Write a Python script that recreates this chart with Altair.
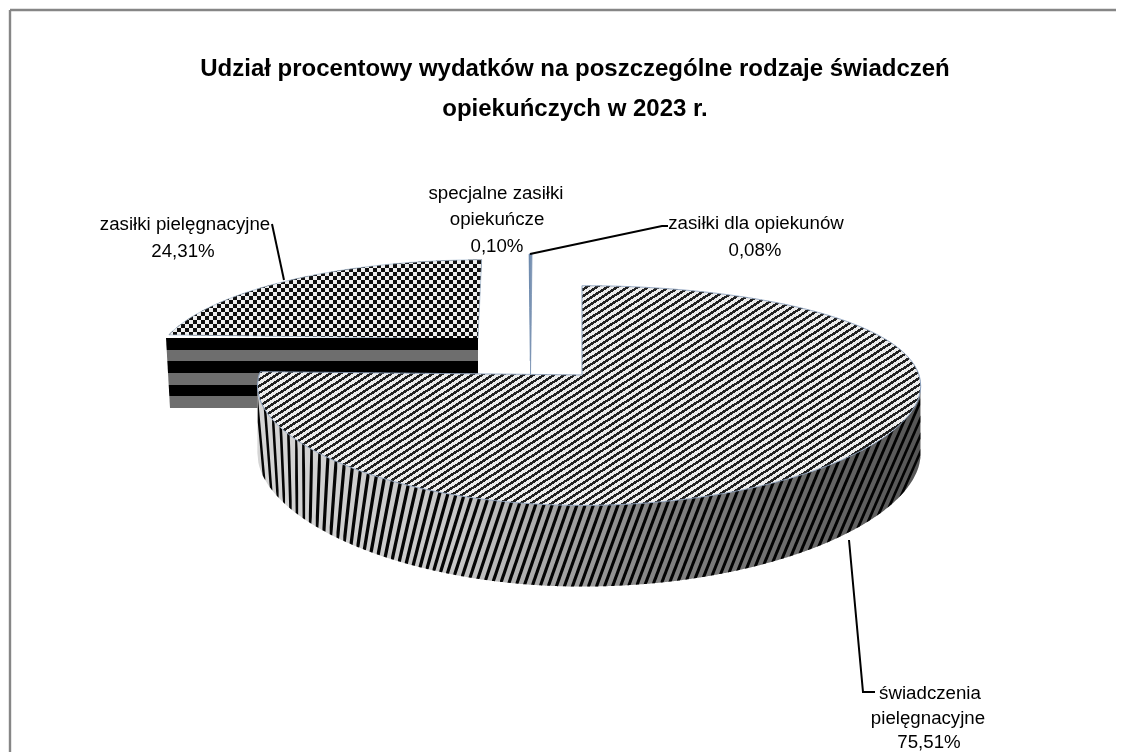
import math
import altair as alt
import numpy as np
import pandas as pd

# ---- chart values ----
categories = ["świadczenia pielęgnacyjne", "zasiłki pielęgnacyjne", "specjalne zasiłki opiekuńcze", "zasiłki dla opiekunów"]
shares = [75.51, 24.31, 0.10, 0.08]

title_lines = ["Udział procentowy wydatków na poszczególne rodzaje świadczeń", "opiekuńczych w 2023 r."]
title_x = [575, 575]
title_y = [69, 109]

label_text = ["zasiłki pielęgnacyjne", "24,31%", "specjalne zasiłki", "opiekuńcze", "0,10%",
              "zasiłki dla opiekunów", "0,08%", "świadczenia", "pielęgnacyjne", "75,51%"]
label_x = [185, 183, 496, 497, 497, 756, 755, 930, 928, 929]
label_y = [224, 251, 193, 219, 246, 223, 250, 693, 718, 742]

leader_id = [0, 0, 1, 1, 1, 2, 2, 2]
leader_x = [284, 272, 530, 662, 668, 849, 863, 875]
leader_y = [280, 224, 254, 226, 226, 540, 692, 692]

W, H = 1108, 744
sx = alt.Scale(domain=[8, 8 + W], range=[0, W], nice=False, zero=False)
sy = alt.Scale(domain=[8, 8 + H], range=[0, H], nice=False, zero=False)


def rim(xc, yc, al, ar, B, k, kx, t0, t1, drop=0.0, n=240):
    pts = []
    for i in range(n + 1):
        t = math.radians(t0 + (t1 - t0) * i / n)
        u, v = math.sin(t), math.cos(t)
        w = 1 + k * v
        A = ar if u >= 0 else al
        pts.append((xc + A * u / (1 + kx * v), yc - B * v / w + drop / w))
    return pts


def sample(poly, step=1.0):
    lo, hi = min(p[0] for p in poly), max(p[0] for p in poly)
    xs = set()
    e = 1e-3
    x = lo + e
    while x < hi:
        xs.add(round(x, 3))
        x += step
    for p in poly:
        if lo + e < p[0] < hi - e and abs(p[0] - round(p[0])) < 1e-6:
            xs.add(p[0] - e)
            xs.add(p[0] + e)
    xs.add(hi - e)
    rows = []
    m = len(poly)
    for x in sorted(xs):
        ys = []
        for i in range(m):
            (x1, y1), (x2, y2) = poly[i], poly[(i + 1) % m]
            if (x1 <= x < x2) or (x2 <= x < x1):
                ys.append(y1 + (y2 - y1) * (x - x1) / (x2 - x1))
        if ys:
            rows.append({"x": x, "y": min(ys), "y2": max(ys)})
    return pd.DataFrame(rows)


def stripes(df, angle, period, on, off, duty=0.5):
    w = max(df.x.max() - df.x.min(), 1)
    h = max(df.y2.max() - df.y.min(), 1)
    a0 = math.radians(angle)
    nx, ny = math.sin(a0), math.cos(a0)
    a, b = nx * w, ny * h
    c = (abs(a) + abs(b)) / (a * a + b * b)
    x1 = 0 if a >= 0 else 1
    y1 = 0 if b >= 0 else 1
    N = int((abs(a) + abs(b)) / period) + 1
    unit = period / (abs(a) + abs(b))
    stops = []
    for i in range(N):
        s = i * unit
        m = s + duty * unit
        e = s + unit
        if s > 1:
            break
        stops += [(s, on), (min(m, 1), on), (min(m, 1), off), (min(e, 1), off)]
    return alt.Gradient(
        gradient="linear",
        x1=x1, y1=y1, x2=x1 + c * a, y2=y1 + c * b,
        stops=[alt.GradientStop(offset=round(o, 6), color=col) for o, col in stops],
    )


def area(df, **mark):
    return alt.Chart(df).mark_area(**mark).encode(
        x=alt.X("x:Q", scale=sx, axis=None),
        y=alt.Y("y:Q", scale=sy, axis=None, stack=None),
        y2="y2:Q",
    )


# sweep of each slice, from the values
sweep = [s / sum(shares) * 360 for s in shares]
a1 = sweep[0]
a2 = a1 + sweep[1]
a3 = a2 + sweep[2]
a4 = a3 + sweep[3]

layers = []

# frame (top and left only)
frame = pd.DataFrame({"x": [10, 10], "x2": [1116, 10], "y": [10, 10], "y2": [10, 752]})
layers.append(alt.Chart(frame).mark_rule(color="#868686", strokeWidth=2.4).encode(
    x=alt.X("x:Q", scale=sx, axis=None), x2="x2:Q",
    y=alt.Y("y:Q", scale=sy, axis=None), y2="y2:Q"))

# slice 2: checkered top
top2 = sample(rim(484.5, 338, 318.5, 318.5, 99, 0.265, 0.265, a1, a2) + [(478, 339)])
layers.append(area(top2, color="white"))
layers.append(area(top2, color=stripes(top2, 90, 8, "white", "black"), blend="difference"))
layers.append(area(top2, color=stripes(top2, 0, 8, "white", "black"), blend="difference"))
layers.append(area(top2, color="rgba(120,120,120,0.12)", stroke="#9fb4cc", strokeWidth=0.7))

# slice 2: banded cut face
face = sample([(166, 338), (478, 338), (478, 408), (170, 408)])
layers.append(area(face, color=stripes(face, 0, 23.4, "#000000", "#6e6e6e")))

# slices 3 and 4
thin_colors = ["#5f7fa6", "#7d96b5"]
for t0, t1, col in [(a2, a3, thin_colors[0]), (a3, a4, thin_colors[1])]:
    d = sample(rim(532, 375, 320, 320, 153, 0.265, 0.265, t0, t1, n=8) + [(530.5, 375)], step=0.2)
    layers.append(area(d, color=col, stroke=col, strokeWidth=0.8))

# slice 1: wall, with a fan of dark bands
RIM = dict(xc=582, yc=375, al=323, ar=337, B=106, k=0.187, kx=0.1)
arc_wall = rim(**RIM, t0=98, t1=a1)
wall_poly = arc_wall + rim(**RIM, t0=98, t1=a1, drop=66)[::-1]
wall = sample(wall_poly)
layers.append(area(wall, color="#e2e2e2"))

band_rows = []
Y_REF = 480.0
x0 = 215.0
band = 0
while x0 < 990:
    gap = float(np.interp(x0, [257, 280, 320, 400, 860, 930], [6, 6.5, 8, 8.5, 8, 6.5]))
    ang = float(np.interp(x0, [257, 300, 380, 480, 921], [96, 90, 80, 72, 66]))
    if abs(ang - 90) < 0.5:
        ang = 90.5
    tn = math.tan(math.radians(ang))
    bw = 0.4 * gap
    shift = abs(130 / tn)
    for x in np.arange(x0 - shift, x0 + shift + bw + 0.5, 0.5):
        if x < wall.x.min() or x > wall.x.max():
            continue
        l1 = Y_REF - tn * (x - x0)
        l2 = Y_REF - tn * (x - x0 - bw)
        lo, hi = min(l1, l2), max(l1, l2)
        t = max(lo, float(np.interp(x, wall.x, wall.y)))
        b = min(hi, float(np.interp(x, wall.x, wall.y2)))
        if t < b:
            band_rows.append({"i": band, "x": round(float(x), 2), "y": round(t, 2), "y2": round(b, 2)})
    band += 1
    x0 += gap
bands = pd.DataFrame(band_rows)
layers.append(area(bands, color="#050505").encode(detail="i:N"))

shade = alt.Gradient(gradient="linear", x1=0, y1=0, x2=1, y2=0, stops=[
    alt.GradientStop(offset=0, color="rgba(0,0,0,0.06)"),
    alt.GradientStop(offset=0.3, color="rgba(0,0,0,0.12)"),
    alt.GradientStop(offset=0.6, color="rgba(0,0,0,0.42)"),
    alt.GradientStop(offset=1, color="rgba(0,0,0,0.62)"),
])
layers.append(area(wall, color=shade))

# slice 1: sliver of inner wall
sliver = sample([(582, 287), (588, 375), (582, 375)], step=0.25)
layers.append(area(sliver, color="#2e3a46"))

# slice 1: striped top
top1 = sample(rim(**RIM, t0=0, t1=a1) + [(588, 375)])
layers.append(area(top1, color=stripes(top1, 33, 5.6, "#222222", "#ececec", duty=0.44),
                   stroke="#8ba0bd", strokeWidth=1))

# leader lines
lead = pd.DataFrame({"id": leader_id, "x": leader_x, "y": leader_y, "o": range(len(leader_x))})
layers.append(alt.Chart(lead).mark_line(color="black", strokeWidth=2).encode(
    x=alt.X("x:Q", scale=sx, axis=None), y=alt.Y("y:Q", scale=sy, axis=None),
    detail="id:N", order="o:Q"))

# labels
labels = pd.DataFrame({"t": label_text, "x": label_x, "y": label_y})
layers.append(alt.Chart(labels).mark_text(font="Liberation Sans", fontSize=18.7, color="black",
                                          baseline="middle", align="center").encode(
    x=alt.X("x:Q", scale=sx, axis=None), y=alt.Y("y:Q", scale=sy, axis=None), text="t:N"))

titles = pd.DataFrame({"t": title_lines, "x": title_x, "y": title_y})
layers.append(alt.Chart(titles).mark_text(font="Liberation Sans", fontSize=24, fontWeight="bold", color="black",
                                          baseline="middle", align="center").encode(
    x=alt.X("x:Q", scale=sx, axis=None), y=alt.Y("y:Q", scale=sy, axis=None), text="t:N"))

chart = alt.layer(*layers).properties(
    width=W, height=H, padding=0, background="white",
    autosize=alt.AutoSizeParams(type="none"),
).configure_view(strokeWidth=0)

chart.save("out.html", embed_options={"renderer": "svg", "actions": False})
